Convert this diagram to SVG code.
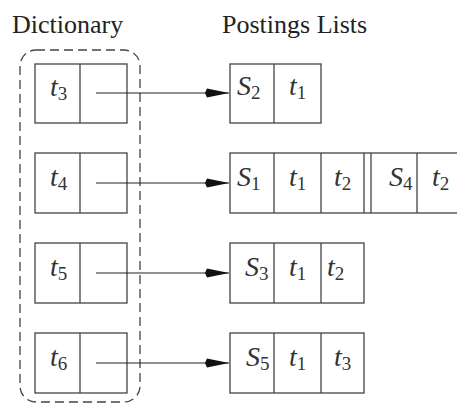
<svg xmlns="http://www.w3.org/2000/svg" width="457" height="403" viewBox="0 0 457 403">
<defs>
<marker id="ah" markerWidth="26" markerHeight="12" refX="24" refY="6" orient="auto" markerUnits="userSpaceOnUse">
<path d="M0,6 L2,1.5 L24,6 L2,10.5 Z" fill="#111"/>
</marker>
</defs>
<style>
.box{fill:#fff;stroke:#444;stroke-width:1.3}
.ln{stroke:#444;stroke-width:1.3;fill:none}
.hd{font-family:'Liberation Serif','Times New Roman','DejaVu Serif',serif;font-size:26px;fill:#222}
.m{font-family:'Liberation Serif','Times New Roman','DejaVu Serif',serif;font-style:italic;font-size:28px;fill:#333}
.s{font-size:19px;font-style:normal}
.con{stroke:#222;stroke-width:1.2;fill:none}
</style>
<rect width="457" height="403" fill="#fff"/>
<text class="hd" x="12" y="33">Dictionary</text>
<text class="hd" x="222" y="33">Postings Lists</text>
<rect x="20" y="50" width="120" height="352" rx="16" ry="16" fill="none" stroke="#444" stroke-width="1.3" stroke-dasharray="9,5"/>

<g id="dict-t3">
<rect class="box" x="35" y="64" width="92" height="59"/>
<line class="ln" x1="80" y1="64" x2="80" y2="123"/>
<text class="m" x="50" y="96">t<tspan class="s" dy="4">3</tspan></text>
</g>
<g id="dict-t4">
<rect class="box" x="35" y="153" width="92" height="60"/>
<line class="ln" x1="80" y1="153" x2="80" y2="213"/>
<text class="m" x="50" y="186">t<tspan class="s" dy="4">4</tspan></text>
</g>
<g id="dict-t5">
<rect class="box" x="35" y="243" width="92" height="60"/>
<line class="ln" x1="80" y1="243" x2="80" y2="303"/>
<text class="m" x="50" y="276">t<tspan class="s" dy="4">5</tspan></text>
</g>
<g id="dict-t6">
<rect class="box" x="35" y="333" width="92" height="60"/>
<line class="ln" x1="80" y1="333" x2="80" y2="393"/>
<text class="m" x="50" y="366">t<tspan class="s" dy="4">6</tspan></text>
</g>

<g id="post-1">
<rect class="box" x="230" y="64" width="91" height="59"/>
<line class="ln" x1="274" y1="64" x2="274" y2="123"/>
<text class="m" x="237" y="95">S<tspan class="s" dy="4">2</tspan></text>
<text class="m" x="289" y="95">t<tspan class="s" dy="4">1</tspan></text>
</g>
<g id="post-2">
<rect class="box" x="230" y="153" width="230" height="60"/>
<line class="ln" x1="274" y1="153" x2="274" y2="213"/>
<line class="ln" x1="321" y1="153" x2="321" y2="213"/>
<line class="ln" x1="364" y1="153" x2="364" y2="213"/>
<line class="ln" x1="371" y1="153" x2="371" y2="213"/>
<line class="ln" x1="417" y1="153" x2="417" y2="213"/>
<text class="m" x="237" y="186">S<tspan class="s" dy="4">1</tspan></text>
<text class="m" x="289" y="186">t<tspan class="s" dy="4">1</tspan></text>
<text class="m" x="334" y="186">t<tspan class="s" dy="4">2</tspan></text>
<text class="m" x="389" y="186">S<tspan class="s" dy="4">4</tspan></text>
<text class="m" x="432" y="186">t<tspan class="s" dy="4">2</tspan></text>
</g>
<g id="post-3">
<rect class="box" x="230" y="243" width="134" height="60"/>
<line class="ln" x1="274" y1="243" x2="274" y2="303"/>
<line class="ln" x1="321" y1="243" x2="321" y2="303"/>
<text class="m" x="245" y="276">S<tspan class="s" dy="4">3</tspan></text>
<text class="m" x="289" y="276">t<tspan class="s" dy="4">1</tspan></text>
<text class="m" x="327" y="276">t<tspan class="s" dy="4">2</tspan></text>
</g>
<g id="post-4">
<rect class="box" x="230" y="333" width="134" height="60"/>
<line class="ln" x1="274" y1="333" x2="274" y2="393"/>
<line class="ln" x1="321" y1="333" x2="321" y2="393"/>
<text class="m" x="246" y="366">S<tspan class="s" dy="4">5</tspan></text>
<text class="m" x="289" y="366">t<tspan class="s" dy="4">1</tspan></text>
<text class="m" x="334" y="366">t<tspan class="s" dy="4">3</tspan></text>
</g>

<g id="connectors">
<line class="con" x1="96" y1="93" x2="229" y2="93" marker-end="url(#ah)"/>
<line class="con" x1="96" y1="183" x2="229" y2="183" marker-end="url(#ah)"/>
<line class="con" x1="96" y1="273" x2="229" y2="273" marker-end="url(#ah)"/>
<line class="con" x1="96" y1="363" x2="229" y2="363" marker-end="url(#ah)"/>
</g>
</svg>
